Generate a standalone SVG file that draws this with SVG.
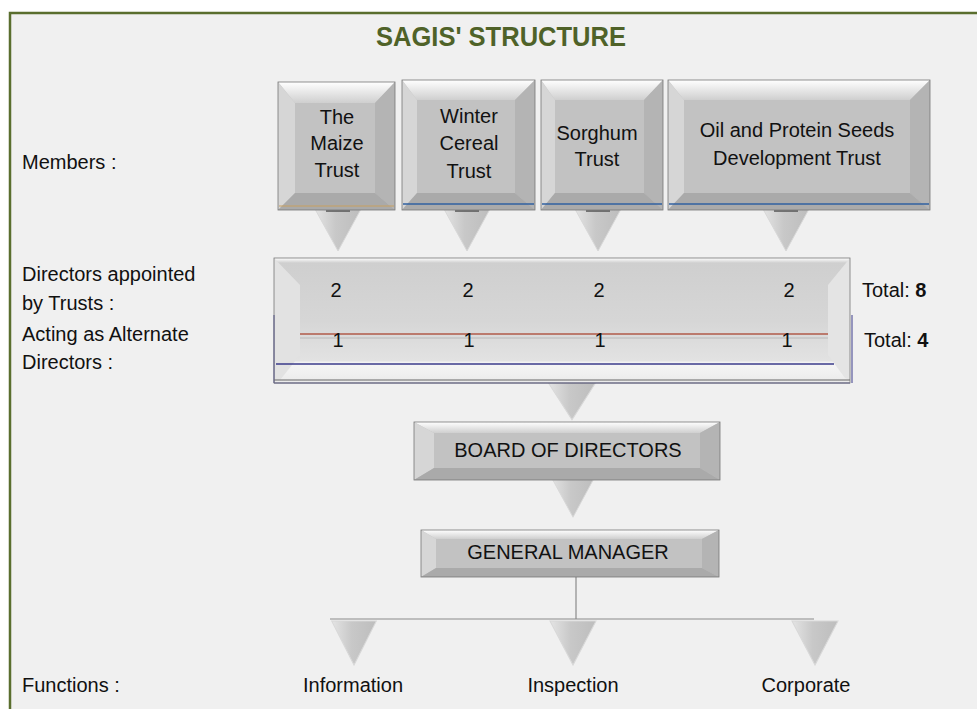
<svg xmlns="http://www.w3.org/2000/svg" xmlns:xlink="http://www.w3.org/1999/xlink" width="977" height="709" viewBox="0 0 977 709">
<style>
.t{font-family:"Liberation Sans",Arial,sans-serif;font-size:20px;fill:#111}
.c{text-anchor:middle}
.face{fill:#c2c2c2}
.bt{fill:url(#gTop)}
.bl{fill:#d6d6d6}
.br{fill:#b4b4b4}
.bb{fill:#aaaaaa}
.edge{fill:none;stroke:#777;stroke-width:0.8}
.ln{stroke:#8a8a8a;stroke-width:1.2;fill:none}
</style>
<defs>
<linearGradient id="gTop" x1="0" y1="0" x2="0" y2="1">
<stop offset="0" stop-color="#ffffff"/><stop offset="1" stop-color="#cfcfcf"/>
</linearGradient>
<linearGradient id="gTri" x1="0" y1="0" x2="1" y2="0">
<stop offset="0" stop-color="#e4e4e4"/><stop offset="0.45" stop-color="#c8c8c8"/><stop offset="1" stop-color="#bdbdbd"/>
</linearGradient>
<linearGradient id="gBar" x1="0" y1="0" x2="0" y2="1">
<stop offset="0" stop-color="#ffffff"/><stop offset="0.04" stop-color="#cfcfcf"/><stop offset="0.5" stop-color="#d6d6d6"/><stop offset="0.82" stop-color="#e2e2e2"/><stop offset="0.84" stop-color="#f6f6f6"/><stop offset="1" stop-color="#eaeaea"/>
</linearGradient>
<polygon id="tri" points="-23,0 23,0 0,42" fill="url(#gTri)" stroke="#d8d8d8" stroke-width="1"/>
<g id="triS">
<use xlink:href="#tri"/>
<line x1="-12" y1="2" x2="12" y2="2" stroke="#555" stroke-width="1.5"/>
</g>
</defs>
<rect x="0" y="0" width="977" height="709" fill="#ffffff"/>
<rect x="10" y="13" width="975" height="710" fill="#f0f0f0" stroke="#5a6e2e" stroke-width="2.5"/>
<text x="501" y="46" text-anchor="middle" font-family="Liberation Sans,Arial,sans-serif" font-weight="bold" font-size="28" fill="#4f6228" textLength="250" lengthAdjust="spacingAndGlyphs">SAGIS' STRUCTURE</text>

<g id="labels">
<text class="t" x="22" y="169">Members :</text>
<text class="t" x="22" y="281">Directors appointed</text>
<text class="t" x="22" y="310">by Trusts :</text>
<text class="t" x="22" y="341">Acting as Alternate</text>
<text class="t" x="22" y="369">Directors :</text>
<text class="t" x="22" y="692">Functions :</text>
</g>

<g id="connectors">
<use xlink:href="#triS" transform="translate(338,209)"/>
<use xlink:href="#triS" transform="translate(467,209)"/>
<use xlink:href="#triS" transform="translate(598,209)"/>
<use xlink:href="#triS" transform="translate(786,209)"/>
<use xlink:href="#tri" transform="translate(572,382) scale(1.05,0.9)"/>
<use xlink:href="#tri" transform="translate(573,476) scale(0.97,0.98)"/>
<line class="ln" x1="576" y1="577" x2="576" y2="619"/>
<line class="ln" x1="330" y1="619" x2="814" y2="619"/>
<use xlink:href="#tri" transform="translate(354,621) scale(0.97,1.05)"/>
<use xlink:href="#tri" transform="translate(573,621) scale(1,1.05)"/>
<use xlink:href="#tri" transform="translate(815,621) scale(1,1.05)"/>
</g>

<g id="maize">
<rect x="278" y="82" width="117" height="128" class="face"/>
<polygon class="bt" points="278,82 395,82 375,103 295,103"/>
<polygon class="bl" points="278,82 295,103 295,193 278,210"/>
<polygon class="br" points="395,82 375,103 375,193 395,210"/>
<polygon class="bb" points="278,210 295,193 375,193 395,210"/>
<rect x="278" y="82" width="117" height="128" class="edge"/>
<line x1="279" y1="206" x2="394" y2="206" stroke="#c8a060" stroke-width="1.2"/>
<text class="t c" x="337" y="124">The</text>
<text class="t c" x="337" y="150">Maize</text>
<text class="t c" x="337" y="177">Trust</text>
</g>

<g id="winter">
<rect x="402" y="80" width="133" height="130" class="face"/>
<polygon class="bt" points="402,80 535,80 515,100 417,100"/>
<polygon class="bl" points="402,80 417,100 417,193 402,210"/>
<polygon class="br" points="535,80 515,100 515,193 535,210"/>
<polygon class="bb" points="402,210 417,193 515,193 535,210"/>
<rect x="402" y="80" width="133" height="130" class="edge"/>
<line x1="403" y1="204" x2="534" y2="204" stroke="#3060a0" stroke-width="1.5"/>
<text class="t c" x="469" y="123">Winter</text>
<text class="t c" x="469" y="150">Cereal</text>
<text class="t c" x="469" y="178">Trust</text>
</g>

<g id="sorghum">
<rect x="541" y="80" width="122" height="130" class="face"/>
<polygon class="bt" points="541,80 663,80 644,100 555,100"/>
<polygon class="bl" points="541,80 555,100 555,193 541,210"/>
<polygon class="br" points="663,80 644,100 644,193 663,210"/>
<polygon class="bb" points="541,210 555,193 644,193 663,210"/>
<rect x="541" y="80" width="122" height="130" class="edge"/>
<line x1="542" y1="204" x2="662" y2="204" stroke="#3060a0" stroke-width="1.5"/>
<text class="t c" x="597" y="140">Sorghum</text>
<text class="t c" x="597" y="166">Trust</text>
</g>

<g id="oil">
<rect x="668" y="80" width="262" height="130" class="face"/>
<polygon class="bt" points="668,80 930,80 910,100 684,100"/>
<polygon class="bl" points="668,80 684,100 684,193 668,210"/>
<polygon class="br" points="930,80 910,100 910,193 930,210"/>
<polygon class="bb" points="668,210 684,193 910,193 930,210"/>
<rect x="668" y="80" width="262" height="130" class="edge"/>
<line x1="669" y1="204" x2="929" y2="204" stroke="#3060a0" stroke-width="1.5"/>
<text class="t c" x="797" y="137">Oil and Protein Seeds</text>
<text class="t c" x="797" y="165">Development Trust</text>
</g>

<g id="directors">
<rect x="274" y="258" width="576" height="125" fill="url(#gBar)"/>
<polygon points="274,258 300,285 300,355 280,380 274,380" fill="#e2e2e2"/>
<polygon points="850,258 828,285 828,355 845,378 850,380" fill="#e4e4e4"/>
<line x1="300" y1="334" x2="828" y2="334" stroke="#b05a48" stroke-width="1.5"/>
<line x1="300" y1="338" x2="828" y2="338" stroke="#b8b8b8" stroke-width="1"/>
<line x1="276" y1="364" x2="834" y2="364" stroke="#3a3a8a" stroke-width="1.3"/>
<line x1="274" y1="315" x2="274" y2="383" stroke="#3a3a8a" stroke-width="1"/>
<line x1="852" y1="315" x2="852" y2="383" stroke="#3a3a8a" stroke-width="1"/>
<line x1="274" y1="380" x2="850" y2="380" stroke="#666" stroke-width="1.2"/>
<line x1="274" y1="383" x2="850" y2="383" stroke="#4a4a8a" stroke-width="1"/>
<rect x="274" y="258" width="576" height="125" class="edge"/>
<text class="t c" x="336" y="297">2</text>
<text class="t c" x="468" y="297">2</text>
<text class="t c" x="599" y="297">2</text>
<text class="t c" x="789" y="297">2</text>
<text class="t c" x="338" y="347">1</text>
<text class="t c" x="469" y="347">1</text>
<text class="t c" x="600" y="347">1</text>
<text class="t c" x="787" y="347">1</text>
<text class="t" x="862" y="297">Total: <tspan font-weight="bold">8</tspan></text>
<text class="t" x="864" y="347">Total: <tspan font-weight="bold">4</tspan></text>
</g>

<g id="board">
<rect x="414" y="422" width="306" height="58" class="face"/>
<polygon class="bt" points="414,422 720,422 700,433 434,433"/>
<polygon class="bl" points="414,422 434,433 434,468 414,480"/>
<polygon class="br" points="720,422 700,433 700,468 720,480"/>
<polygon class="bb" points="414,480 434,468 700,468 720,480"/>
<rect x="414" y="422" width="306" height="58" class="edge"/>
<text class="t c" x="568" y="457">BOARD OF DIRECTORS</text>
</g>

<g id="gm">
<rect x="421" y="530" width="298" height="47" class="face"/>
<polygon class="bt" points="421,530 719,530 702,539 436,539"/>
<polygon class="bl" points="421,530 436,539 436,568 421,577"/>
<polygon class="br" points="719,530 702,539 702,568 719,577"/>
<polygon class="bb" points="421,577 436,568 702,568 719,577"/>
<rect x="421" y="530" width="298" height="47" class="edge"/>
<text class="t c" x="568" y="559">GENERAL MANAGER</text>
</g>

<g id="functions">
<text class="t c" x="353" y="692">Information</text>
<text class="t c" x="573" y="692">Inspection</text>
<text class="t c" x="806" y="692">Corporate</text>
</g>
</svg>
